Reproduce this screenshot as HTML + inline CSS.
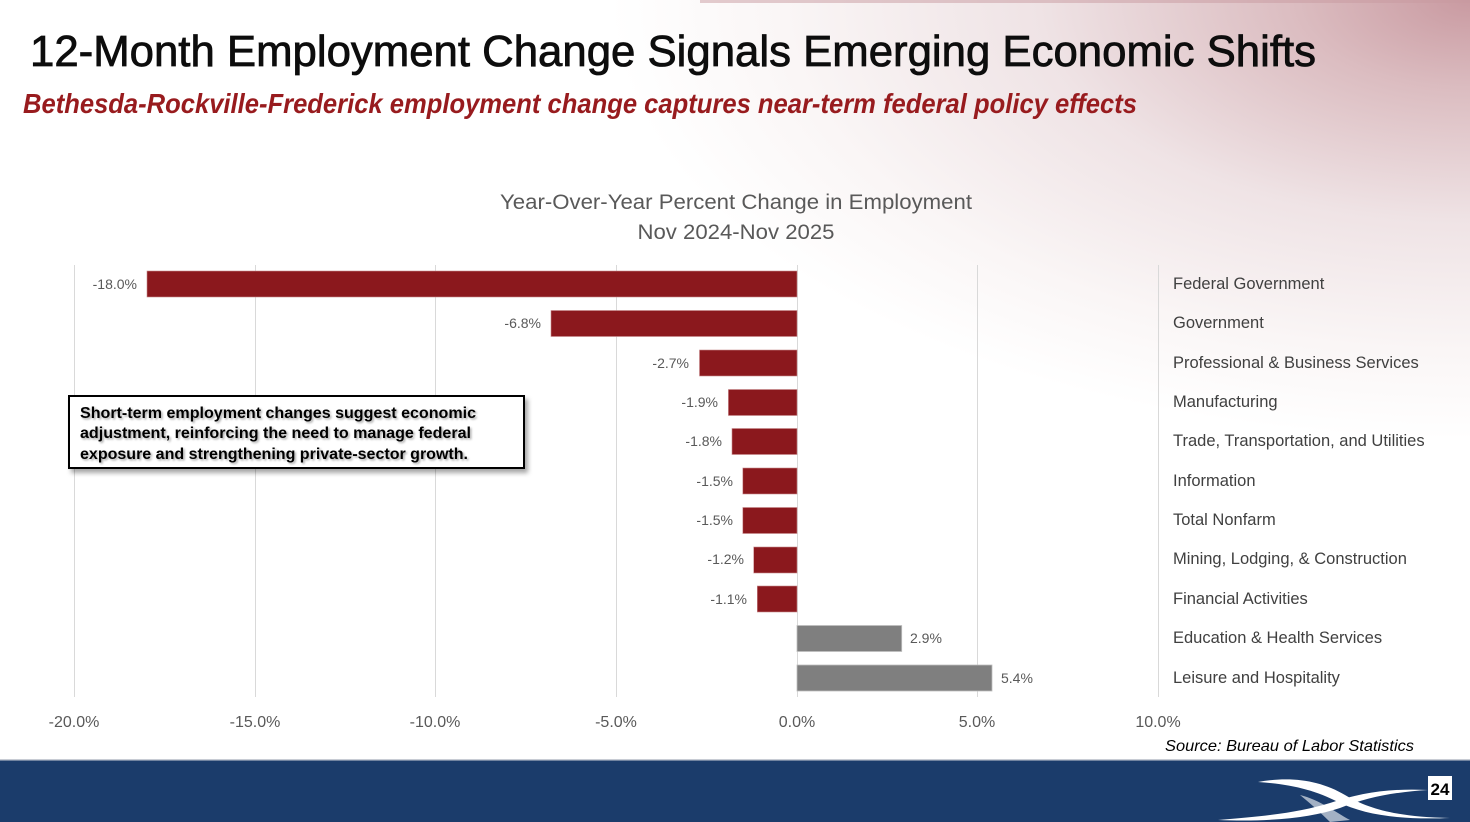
<!DOCTYPE html>
<html><head><meta charset="utf-8"><style>
html,body{margin:0;padding:0;}
body{width:1470px;height:822px;overflow:hidden;background:#fff;}
svg{display:block;}
</style></head><body>
<svg width="1470" height="822" viewBox="0 0 1470 822" xmlns="http://www.w3.org/2000/svg">
<defs>
<radialGradient id="bg" cx="0" cy="0" r="1" gradientUnits="userSpaceOnUse" gradientTransform="translate(1470,0) scale(860,440)">
<stop offset="0" stop-color="#c99aa1"/>
<stop offset="0.2" stop-color="#dbbcc0"/>
<stop offset="0.5" stop-color="#efe3e5"/>
<stop offset="0.8" stop-color="#faf6f6"/>
<stop offset="1" stop-color="#ffffff"/>
</radialGradient>
<linearGradient id="bg2" x1="0" y1="0" x2="0" y2="1">
<stop offset="0" stop-color="#f6f3f3"/>
<stop offset="0.4" stop-color="#fbfafa"/>
<stop offset="1" stop-color="#ffffff"/>
</linearGradient>
<filter id="sh" x="-10%" y="-20%" width="120%" height="150%">
<feDropShadow dx="3" dy="4" stdDeviation="2.5" flood-color="#000" flood-opacity="0.35"/>
</filter>
<filter id="tsh" x="-5%" y="-20%" width="110%" height="150%">
<feDropShadow dx="1.5" dy="1.5" stdDeviation="1" flood-color="#000" flood-opacity="0.35"/>
</filter>
</defs>
<rect x="0" y="0" width="1470" height="760" fill="url(#bg2)"/>
<rect x="0" y="0" width="1470" height="760" fill="url(#bg)"/>
<rect x="700" y="0" width="770" height="3" fill="#c79aa0" opacity="0.5"/>

<!-- Title -->
<text x="30" y="66" font-family="Liberation Sans, sans-serif" font-size="44" fill="#0d0d0d" stroke="#0d0d0d" stroke-width="0.8" textLength="1286" lengthAdjust="spacingAndGlyphs">12-Month Employment Change Signals Emerging Economic Shifts</text>
<text x="23" y="113" font-family="Liberation Sans, sans-serif" font-size="28" font-weight="bold" font-style="italic" fill="#981b1e" textLength="1114" lengthAdjust="spacingAndGlyphs">Bethesda-Rockville-Frederick employment change captures near-term federal policy effects</text>

<!-- Chart title -->
<text x="736" y="209" text-anchor="middle" font-family="Liberation Sans, sans-serif" font-size="21" fill="#595959" textLength="472" lengthAdjust="spacingAndGlyphs">Year-Over-Year Percent Change in Employment</text>
<text x="736" y="239" text-anchor="middle" font-family="Liberation Sans, sans-serif" font-size="21" fill="#595959" textLength="197" lengthAdjust="spacingAndGlyphs">Nov 2024-Nov 2025</text>

<!-- Gridlines -->
<g stroke="#d9d9d9" stroke-width="1">
<line x1="74.5" y1="265" x2="74.5" y2="697"/>
<line x1="255.5" y1="265" x2="255.5" y2="697"/>
<line x1="435.5" y1="265" x2="435.5" y2="697"/>
<line x1="616.5" y1="265" x2="616.5" y2="697"/>
<line x1="797.5" y1="265" x2="797.5" y2="697"/>
<line x1="977.5" y1="265" x2="977.5" y2="697"/>
<line x1="1158.5" y1="265" x2="1158.5" y2="697"/>
</g>

<!-- Bars -->
<g fill="#8b181d" stroke="#c98a8d" stroke-width="0.6">
<rect x="147" y="271" width="650" height="26"/>
<rect x="551" y="310.5" width="246" height="26"/>
<rect x="699.5" y="350" width="97.5" height="26"/>
<rect x="728.4" y="389.5" width="68.6" height="26"/>
<rect x="732" y="428.5" width="65" height="26"/>
<rect x="742.8" y="468" width="54.2" height="26"/>
<rect x="742.8" y="507.5" width="54.2" height="26"/>
<rect x="753.7" y="547" width="43.3" height="26"/>
<rect x="757.3" y="586" width="39.7" height="26"/>
</g>
<g fill="#7f7f7f" stroke="#bfbfbf" stroke-width="0.8">
<rect x="797" y="625.5" width="104.7" height="26"/>
<rect x="797" y="665" width="195" height="26"/>
</g>

<!-- Data labels -->
<g font-family="Liberation Sans, sans-serif" font-size="14" fill="#595959" text-anchor="end">
<text x="137" y="289">-18.0%</text>
<text x="541" y="328">-6.8%</text>
<text x="689" y="368">-2.7%</text>
<text x="718" y="407">-1.9%</text>
<text x="722" y="446">-1.8%</text>
<text x="733" y="486">-1.5%</text>
<text x="733" y="525">-1.5%</text>
<text x="744" y="564">-1.2%</text>
<text x="747" y="604">-1.1%</text>
</g>
<g font-family="Liberation Sans, sans-serif" font-size="14" fill="#595959">
<text x="910" y="643">2.9%</text>
<text x="1001" y="683">5.4%</text>
</g>

<!-- Category labels -->
<g font-family="Liberation Sans, sans-serif" font-size="16.5" fill="#404040">
<text x="1173" y="289">Federal Government</text>
<text x="1173" y="328">Government</text>
<text x="1173" y="368">Professional &amp; Business Services</text>
<text x="1173" y="407">Manufacturing</text>
<text x="1173" y="446">Trade, Transportation, and Utilities</text>
<text x="1173" y="486">Information</text>
<text x="1173" y="525">Total Nonfarm</text>
<text x="1173" y="564">Mining, Lodging, &amp; Construction</text>
<text x="1173" y="604">Financial Activities</text>
<text x="1173" y="643">Education &amp; Health Services</text>
<text x="1173" y="683">Leisure and Hospitality</text>
</g>

<!-- Axis tick labels -->
<g font-family="Liberation Sans, sans-serif" font-size="16" fill="#595959" text-anchor="middle">
<text x="74" y="727">-20.0%</text>
<text x="255" y="727">-15.0%</text>
<text x="435" y="727">-10.0%</text>
<text x="616" y="727">-5.0%</text>
<text x="797" y="727">0.0%</text>
<text x="977" y="727">5.0%</text>
<text x="1158" y="727">10.0%</text>
</g>

<!-- Callout box -->
<rect x="69" y="396" width="455" height="72" fill="#ffffff" stroke="#000" stroke-width="2" filter="url(#sh)"/>
<g font-family="Liberation Sans, sans-serif" font-size="16" font-weight="bold" fill="#000" filter="url(#tsh)">
<text x="80" y="418" textLength="396" lengthAdjust="spacingAndGlyphs">Short-term employment changes suggest economic</text>
<text x="80" y="438" textLength="391" lengthAdjust="spacingAndGlyphs">adjustment, reinforcing the need to manage federal</text>
<text x="80" y="459" textLength="388" lengthAdjust="spacingAndGlyphs">exposure and strengthening private-sector growth.</text>
</g>

<!-- Source -->
<text x="1165" y="751" font-family="Liberation Sans, sans-serif" font-size="16" font-style="italic" fill="#000" textLength="249" lengthAdjust="spacingAndGlyphs">Source: Bureau of Labor Statistics</text>

<!-- Footer -->
<rect x="0" y="760" width="1470" height="62" fill="#1b3c6b"/>
<rect x="0" y="759" width="1470" height="1.5" fill="#c8ccd4"/>
<!-- swoosh -->
<path d="M1258 782 C1290 776 1320 780 1345 795 C1370 810 1400 817 1450 818 C1400 820 1365 815 1338 802 C1315 790 1290 784 1258 782 Z" fill="#ffffff"/>
<path d="M1218 820 C1270 816 1300 812 1330 803 C1360 793 1390 788 1428 790 C1395 792 1368 797 1340 808 C1310 818 1270 822 1218 820 Z" fill="#ffffff"/>
<path d="M1300 795 C1320 800 1335 812 1350 820 L1330 822 C1320 812 1310 803 1300 795 Z" fill="#ffffff" opacity="0.6"/>
<rect x="1428" y="776" width="24" height="24" fill="#ffffff"/>
<text x="1440" y="795" text-anchor="middle" font-family="Liberation Sans, sans-serif" font-size="17" font-weight="bold" fill="#000">24</text>
</svg>
</body></html>
